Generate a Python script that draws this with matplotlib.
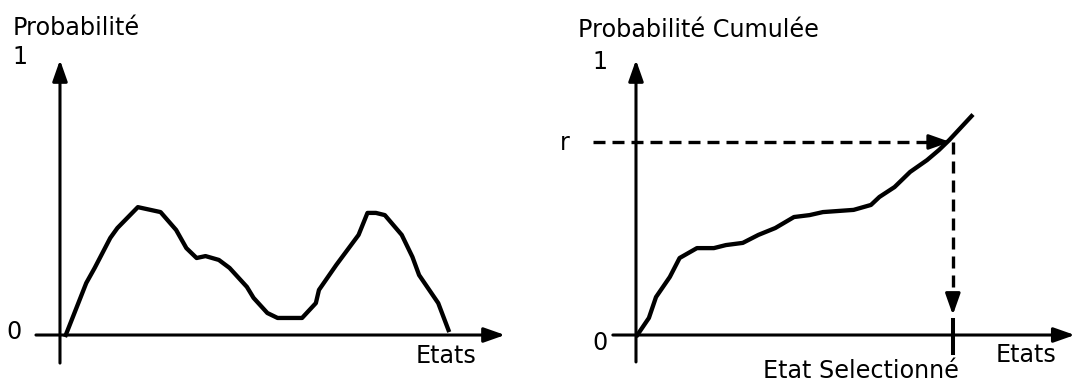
import matplotlib.pyplot as plt

# Densité de probabilité (gauche)
etats_p = [1.3, 5.9, 7.8, 11.3, 12.9, 17.5, 22.6, 26.1, 28.4, 30.7, 32.7, 35.7,
           38.1, 42.0, 43.5, 46.6, 48.9, 54.4, 57.5, 58.2, 62.1, 67.1, 69.1,
           71.0, 73.0, 76.8, 79.2, 80.7, 85.0, 87.3]
proba = [0.0, 0.189, 0.244, 0.353, 0.389, 0.465, 0.447, 0.382, 0.316, 0.280,
         0.287, 0.273, 0.244, 0.175, 0.135, 0.080, 0.062, 0.062, 0.116, 0.164,
         0.255, 0.364, 0.444, 0.444, 0.436, 0.364, 0.284, 0.218, 0.116, 0.018]

# Probabilité cumulée (droite)
etats_c = [0.3, 2.9, 4.5, 7.6, 9.8, 13.7, 17.5, 20.2, 24.0, 27.5, 31.3, 35.5,
           39.0, 42.0, 48.9, 52.8, 54.7, 58.1, 61.6, 65.4, 68.1, 70.4, 75.4]
proba_cum = [0.0, 0.062, 0.138, 0.211, 0.280, 0.316, 0.316, 0.327, 0.335,
             0.364, 0.389, 0.429, 0.436, 0.447, 0.455, 0.473, 0.502, 0.538,
             0.593, 0.636, 0.673, 0.709, 0.796]

r = 0.702
etat_sel = 71.2

fig = plt.figure(figsize=(10.75, 3.83), dpi=100)
ax1 = fig.add_axes([0, 0, 540 / 1075, 1])
ax2 = fig.add_axes([540 / 1075, 0, 535 / 1075, 1])
ax1.set_xlim(-13.48, 107.87)
ax2.set_xlim(-21.57, 98.65)
for ax in (ax1, ax2):
    ax.set_ylim(-0.1745, 1.2182)
    ax.axis('off')

fs = 17.2
head = dict(arrowstyle='-|>,head_length=0.85,head_width=0.3', mutation_scale=15,
            color='black', lw=2.2, shrinkA=0, shrinkB=0)

def axes_fleches(ax, x0, x1, y0):
    ax.annotate('', xy=(x1, 0), xytext=(x0, 0), arrowprops=head, annotation_clip=False)
    ax.annotate('', xy=(0, 1.0), xytext=(0, y0), arrowprops=head, annotation_clip=False)

# --- gauche
axes_fleches(ax1, -5.4, 100, -0.102)
ax1.plot(etats_p, proba, color='black', lw=3.1, solid_joinstyle='round')
ax1.text(-10.6, 1.091, 'Probabilité', fontsize=fs, ha='left', va='baseline')
ax1.text(-9.0, 1.011, '1', fontsize=fs, ha='center', va='center')
ax1.text(-10.3, 0.011, '0', fontsize=fs, ha='center', va='center')
ax1.text(86.7, -0.076, 'Etats', fontsize=fs, ha='center', va='center')

# --- droite
axes_fleches(ax2, -5.2, 98.6, -0.098)
ax2.plot(etats_c, proba_cum, color='black', lw=3.1, solid_joinstyle='round')
ax2.text(-13.0, 1.084, 'Probabilité Cumulée', fontsize=fs, ha='left', va='baseline')
ax2.text(-8.1, 0.993, '1', fontsize=fs, ha='center', va='center')
ax2.text(-8.1, -0.029, '0', fontsize=fs, ha='center', va='center')
ax2.text(-16.0, 0.70, 'r', fontsize=fs, ha='center', va='center')
ax2.text(87.6, -0.073, 'Etats', fontsize=fs, ha='center', va='center')
ax2.text(50.6, -0.132, 'Etat Selectionné', fontsize=fs, ha='center', va='center')

# tirets r -> courbe -> état
ax2.plot([-9.7, etat_sel - 1.5], [r, r], color='black', lw=2.4,
         linestyle=(0, (3.6, 2.1)))
ax2.annotate('', xy=(etat_sel - 0.6, r), xytext=(etat_sel - 3.0, r),
             arrowprops=head)
ax2.plot([etat_sel, etat_sel], [r, 0.12], color='black', lw=2.4,
         linestyle=(0, (3.6, 2.1)))
ax2.annotate('', xy=(etat_sel, 0.073), xytext=(etat_sel, 0.13), arrowprops=head)
ax2.plot([etat_sel, etat_sel], [0.055, -0.065], color='black', lw=2.9)

fig.savefig('out.png', dpi=100)
